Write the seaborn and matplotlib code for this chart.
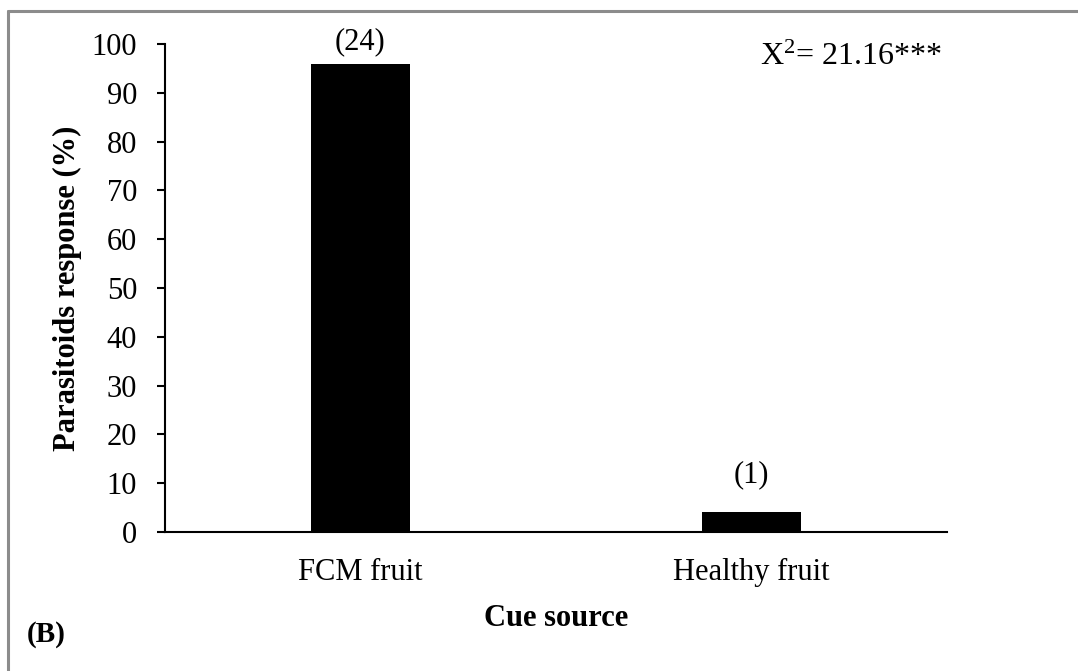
import matplotlib
matplotlib.use("Agg")
import matplotlib.pyplot as plt
import seaborn as sns
import pandas as pd

categories = ["FCM fruit", "Healthy fruit"]
values = [96, 4]
counts = ["(24)", "(1)"]
yticks = [0, 10, 20, 30, 40, 50, 60, 70, 80, 90, 100]

sns.set_style("white")
plt.rcParams['font.family'] = ['Liberation Serif', 'DejaVu Serif']
plt.rcParams['mathtext.fontset'] = 'custom'
plt.rcParams['mathtext.rm'] = 'Liberation Serif'
plt.rcParams['mathtext.it'] = 'Liberation Serif'
plt.rcParams['text.color'] = 'black'
plt.rcParams['axes.labelcolor'] = 'black'
plt.rcParams['xtick.color'] = 'black'
plt.rcParams['ytick.color'] = 'black'

df = pd.DataFrame({"cat": categories, "val": values})

W, H = 1078, 671
fig = plt.figure(figsize=(W / 100, H / 100), dpi=100)
ax = fig.add_axes([165 / W, 1 - 532 / H, (947 - 165) / W, (532 - 44) / H])

sns.barplot(data=df, x="cat", y="val", color="black", width=0.255,
            saturation=1, ax=ax, edgecolor="none")
ax.set_xlim(-0.5, 1.5)
ax.set_ylim(0, 100)
ax.set_yticks(yticks)
ax.set_yticklabels([str(t) for t in yticks], fontsize=22)
ax.tick_params(axis="y", left=True, direction="out", length=6, width=1.5, pad=14)
ax.tick_params(axis="x", bottom=False, length=0, labelsize=22, pad=19)
for s in ["top", "right"]:
    ax.spines[s].set_visible(False)
for s in ["left", "bottom"]:
    ax.spines[s].set_color("black")
    ax.spines[s].set_linewidth(1.5)

ax.set_xlabel("Cue source", fontsize=22, fontweight="bold", labelpad=12)
ax.set_ylabel("Parasitoids response (%)", fontsize=22, fontweight="bold", labelpad=7)

offsets = [5, 17]
for i, (v, c) in enumerate(zip(values, counts)):
    ax.annotate(c, xy=(i, v), xytext=(0, offsets[i]), textcoords="offset points",
                ha="center", va="bottom", fontsize=22)

fig.text(760 / W, 1 - 65 / H, r"X$^{2}$= 21.16***", fontsize=23, ha="left", va="baseline")
fig.text(27 / W, 1 - 635 / H, "(B)", fontsize=21, fontweight="bold", ha="left", va="center")

# outer frame (top and left visible)
fig.add_artist(plt.Line2D([7.5 / W, 7.5 / W], [0, 1 - 10.5 / H], color="#8c8c8c", lw=2.2, transform=fig.transFigure))
fig.add_artist(plt.Line2D([7.5 / W, 1], [1 - 10.5 / H, 1 - 10.5 / H], color="#8c8c8c", lw=2.2, transform=fig.transFigure))

fig.savefig("out.png", dpi=100, facecolor="white")
